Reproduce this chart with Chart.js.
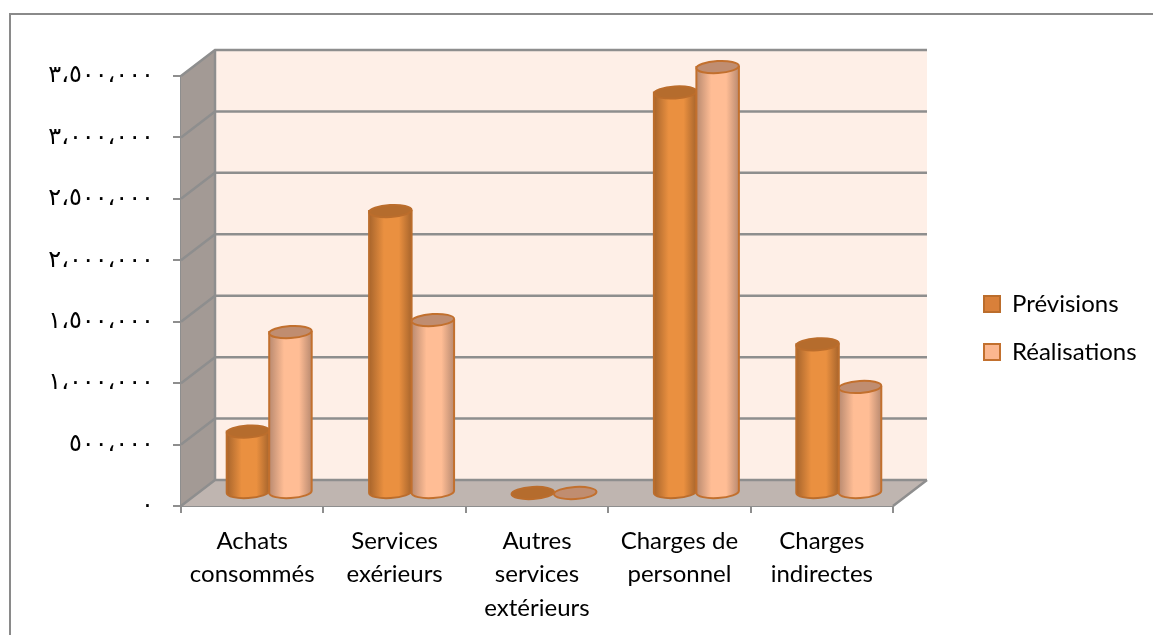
<!DOCTYPE html>
<html>
<head>
<meta charset="utf-8">
<title>Prévisions et réalisations</title>
<script src="https://cdn.jsdelivr.net/npm/chart.js@4"></script>
<style>
  html, body { margin:0; padding:0; background:#fff; }
  #wrap { width:1153px; height:635px; }
</style>
</head>
<body>
<div id="wrap"><canvas id="chart" width="1153" height="635"></canvas></div>
<script>
// ===== DATA =====
const categories = [
  ['Achats', 'consommés'],
  ['Services', 'exérieurs'],
  ['Autres', 'services', 'extérieurs'],
  ['Charges de', 'personnel'],
  ['Charges', 'indirectes']
];
const previsions = [500000, 2295000, 0, 3260000, 1210000];
const realisations = [1310000, 1408000, 0, 3467000, 863000];
const yTickValues = [0, 500000, 1000000, 1500000, 2000000, 2500000, 3000000, 3500000];
const yTickLabels = ['٠', '٥٠٠،٠٠٠', '١،٠٠٠،٠٠٠', '١،٥٠٠،٠٠٠', '٢،٠٠٠،٠٠٠', '٢،٥٠٠،٠٠٠', '٣،٠٠٠،٠٠٠', '٣،٥٠٠،٠٠٠'];

// depth of the fake 3D box, and where the cylinders stand in it
const DEPTH_X = 34, DEPTH_Y = 26;
const BAR_SHIFT_X = 17, BAR_SHIFT_Y = 13;
const ELLIPSE_RY = 6, ELLIPSE_TILT = -0.06;

const GRID = '#8e8e8e';
const ORANGE = {edge:'#a8652c', mid:'#ea9040', top:'#b56c2d', line:'#bb6d2c'};
const PEACH = {edge:'#b98a70', mid:'#ffbd95', top:'#c08d70', line:'#c2702e'};

// ===== CYLINDERS (replaces the flat bar of the library) =====
Chart.BarElement.prototype.draw = function(ctx) {
  const st = this.options.backgroundColor === '#d9803a' ? ORANGE : PEACH;
  const cx = this.x + BAR_SHIFT_X, rx = this.width / 2;
  const top = this.y - BAR_SHIFT_Y, bottom = this.base - BAR_SHIFT_Y;

  ctx.save();
  ctx.strokeStyle = st.line;
  ctx.lineWidth = 2;
  if (bottom - top > 2) {
    const g = ctx.createLinearGradient(cx - rx, 0, cx + rx, 0);
    g.addColorStop(0, st.edge);
    g.addColorStop(0.35, st.mid);
    g.addColorStop(0.7, st.mid);
    g.addColorStop(1, st.edge);
    ctx.beginPath();
    ctx.moveTo(cx - rx, top);
    ctx.lineTo(cx - rx, bottom);
    ctx.ellipse(cx, bottom, rx, ELLIPSE_RY, ELLIPSE_TILT, Math.PI, 0, true);
    ctx.lineTo(cx + rx, top);
    ctx.closePath();
    ctx.fillStyle = g;
    ctx.fill();
    ctx.stroke();
  }
  ctx.beginPath();
  ctx.ellipse(cx, top, rx, ELLIPSE_RY, ELLIPSE_TILT, 0, Math.PI * 2);
  ctx.fillStyle = st.top;
  ctx.fill();
  ctx.stroke();
  ctx.restore();
};

// ===== WALLS, FLOOR, FRAME =====
const boxPlugin = {
  id: 'box3d',
  beforeDatasetsDraw(chart) {
    const {ctx, scales:{x, y}} = chart;
    const left = x.left, right = x.right;
    const y0 = y.getPixelForValue(yTickValues[0]);
    const yMax = y.getPixelForValue(yTickValues[yTickValues.length - 1]);
    ctx.save();
    // back wall
    ctx.fillStyle = '#feefe7';
    ctx.fillRect(left + DEPTH_X, yMax - DEPTH_Y, right - left, y0 - yMax);
    // left wall
    ctx.fillStyle = '#a39a95';
    ctx.beginPath();
    ctx.moveTo(left, y0);
    ctx.lineTo(left + DEPTH_X, y0 - DEPTH_Y);
    ctx.lineTo(left + DEPTH_X, yMax - DEPTH_Y);
    ctx.lineTo(left, yMax);
    ctx.closePath();
    ctx.fill();
    // floor
    ctx.fillStyle = '#bfb5b0';
    ctx.beginPath();
    ctx.moveTo(left, y0);
    ctx.lineTo(left + DEPTH_X, y0 - DEPTH_Y);
    ctx.lineTo(right + DEPTH_X, y0 - DEPTH_Y);
    ctx.lineTo(right, y0);
    ctx.closePath();
    ctx.fill();
    // grid lines go round the corner of the box
    ctx.strokeStyle = GRID;
    ctx.lineWidth = 2.5;
    yTickValues.forEach(v => {
      const py = y.getPixelForValue(v);
      ctx.beginPath();
      ctx.moveTo(left, py);
      ctx.lineTo(left + DEPTH_X, py - DEPTH_Y);
      ctx.lineTo(right + DEPTH_X, py - DEPTH_Y);
      ctx.stroke();
    });
    ctx.beginPath();
    ctx.moveTo(left + DEPTH_X, yMax - DEPTH_Y);
    ctx.lineTo(left + DEPTH_X, y0 - DEPTH_Y);
    ctx.moveTo(right, y0);
    ctx.lineTo(right + DEPTH_X, y0 - DEPTH_Y);
    ctx.stroke();
    ctx.restore();
  },
  // Prévisions first so that Réalisations overlaps it
  beforeDatasetDraw() { return false; },
  afterDatasetsDraw(chart) {
    chart.data.datasets.forEach((d, i) => chart.getDatasetMeta(i).controller.draw());
  },
  afterLayout(chart) {
    const lg = chart.legend;
    lg.left = 960;
    lg.right = 1153;
    lg.top = 268;
    lg.bottom = 400;
  },
  afterDraw(chart) {
    const {ctx, width, height} = chart;
    ctx.save();
    ctx.strokeStyle = '#8a8a8a';
    ctx.lineWidth = 2;
    ctx.beginPath();
    ctx.moveTo(10, height);
    ctx.lineTo(10, 14);
    ctx.lineTo(width, 14);
    ctx.stroke();
    ctx.restore();
  }
};

// ===== CHART =====
new Chart(document.getElementById('chart'), {
  type: 'bar',
  plugins: [boxPlugin],
  data: {
    labels: categories,
    datasets: [
      {label:'Prévisions', data:previsions, backgroundColor:'#d9803a', borderColor:'#bb6d2c', borderWidth:2, clip:false},
      {label:'Réalisations', data:realisations, backgroundColor:'#fbb78f', borderColor:'#c2702e', borderWidth:2, clip:false}
    ]
  },
  options: {
    responsive: false,
    animation: false,
    categoryPercentage: 0.597,
    barPercentage: 1,
    layout: {padding:{left:0, top:76, right:260, bottom:0}},
    plugins: {
      tooltip: {enabled:false},
      legend: {
        position: 'chartArea',
        align: 'start',
        labels: {
          boxWidth: 16, boxHeight: 16, padding: 24,
          color: '#000',
          font: {family:'Lato', size:24}
        }
      }
    },
    scales: {
      x: {
        afterFit: s => { s.height = 129; },
        grid: {drawOnChartArea:false, color:GRID, lineWidth:2, tickLength:7},
        border: {color:GRID, width:2},
        ticks: {color:'#000', padding:11, maxRotation:0, autoSkip:false, font:{family:'Lato', size:24, lineHeight:1.4}}
      },
      y: {
        min: 0,
        max: 3500000,
        afterFit: s => { s.width = 181; },
        afterBuildTicks: s => { s.ticks = yTickValues.map(v => ({value:v})); },
        grid: {drawOnChartArea:false, color:GRID, lineWidth:2, tickLength:8},
        border: {color:GRID, width:2},
        ticks: {
          color:'#000', padding:19,
          font:{family:'DejaVu Sans', size:24},
          callback: v => yTickLabels[yTickValues.indexOf(v)]
        }
      }
    }
  }
});
</script>
</body>
</html>
